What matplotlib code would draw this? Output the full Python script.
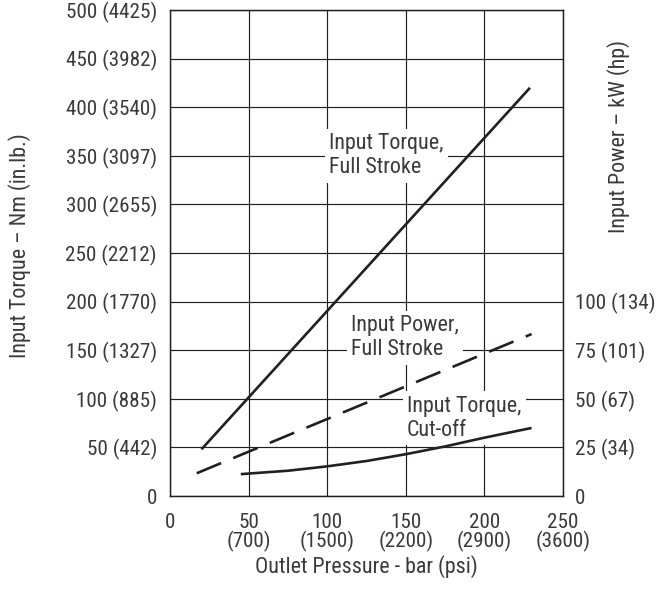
import matplotlib.pyplot as plt
import numpy as np

plt.rcParams["font.family"] = ["Roboto Condensed", "Liberation Sans Narrow", "Liberation Sans", "DejaVu Sans"]

INK = "#231f20"
TXT = "#3a3a3a"

# outlet pressure ticks (bar) and psi equivalents
x_ticks = [0, 50, 100, 150, 200, 250]
x_psi = ["", "(700)", "(1500)", "(2200)", "(2900)", "(3600)"]

# torque ticks (Nm) and in.lb. equivalents
y_ticks = [0, 50, 100, 150, 200, 250, 300, 350, 400, 450, 500]
y_inlb = ["", "(442)", "(885)", "(1327)", "(1770)", "(2212)", "(2655)", "(3097)", "(3540)", "(3982)", "(4425)"]

# power ticks (kW) and hp equivalents
p_ticks = [0, 25, 50, 75, 100]
p_hp = ["", "(34)", "(67)", "(101)", "(134)"]

# curves
torque_full_x = [20, 229]
torque_full_y = [48, 420]

power_full_x = [17, 230]
power_full_y = [11.7, 83.3]

torque_cut_x = [45, 75, 100, 125, 150, 175, 200, 230]
torque_cut_y = [22.5, 26, 30.5, 36, 43, 51, 60, 70]

fig, ax = plt.subplots(figsize=(6.61, 5.92), dpi=100)
fig.subplots_adjust(left=170 / 661, right=563 / 661, bottom=1 - 496 / 592, top=1 - 10 / 592)

ax.set_xlim(0, 250)
ax.set_ylim(0, 500)
ax.set_xticks(x_ticks)
ax.set_xticklabels([f"{v}\n{p}" if p else f"{v}" for v, p in zip(x_ticks, x_psi)],
                   linespacing=0.95)
ax.set_yticks(y_ticks)
ax.set_yticklabels([f"{v} {p}" if p else f"{v}" for v, p in zip(y_ticks, y_inlb)])
ax.tick_params(axis="both", length=0, labelsize=15.2, labelcolor=TXT)
ax.tick_params(axis="y", pad=9.4)
ax.tick_params(axis="x", pad=12)
ax.set_axisbelow(True)
ax.grid(True, color=INK, linewidth=0.85)
for s in ax.spines.values():
    s.set_color(INK)
    s.set_linewidth(0.9)

ax.plot(torque_full_x, torque_full_y, color=INK, lw=1.9, solid_capstyle="butt", zorder=5)
ax.plot(torque_cut_x, torque_cut_y, color=INK, lw=1.9, solid_capstyle="butt", zorder=5)

box = dict(boxstyle="square,pad=0.2", fc="white", ec="none")
ax.text(101.2, 350, "Input Torque,\nFull Stroke", fontsize=15.8, color=TXT, ha="left",
        va="center", linespacing=1.2, bbox=box, zorder=3)
ax.text(115.2, 163, "Input Power,\nFull Stroke", fontsize=15.8, color=TXT, ha="left",
        va="center", linespacing=1.2, bbox=box, zorder=3)
ax.text(150.8, 80, "Input Torque,\nCut-off", fontsize=15.8, color=TXT, ha="left",
        va="center", linespacing=1.2, bbox=box, zorder=3)

ax.set_xlabel("Outlet Pressure - bar (psi)", fontsize=15.8, color=TXT, va="center")
ax.xaxis.set_label_coords(0.5, -0.146)
ax.set_ylabel("Input Torque \u2013 Nm (in.lb.)", fontsize=15.8, color=TXT, va="center")
ax.yaxis.set_label_coords(-0.384, 0.516)

ax2 = ax.twinx()
ax2.set_ylim(0, 250)
ax2.set_yticks(p_ticks)
ax2.set_yticklabels([f"{v} {h}" if h else f"{v}" for v, h in zip(p_ticks, p_hp)])
ax2.tick_params(axis="y", length=0, pad=8.6, labelsize=15.2, labelcolor=TXT)
for s in ax2.spines.values():
    s.set_color(INK)
    s.set_linewidth(0.9)
ax2.plot(power_full_x, power_full_y, color=INK, lw=1.9, dashes=(10, 5), dash_capstyle="butt")
ax2.set_ylabel("Input Power \u2013 kW (hp)", fontsize=15.8, color=TXT, va="center", rotation=90)
ax2.yaxis.set_label_coords(1.14, 0.739)

fig.savefig("out.png", dpi=100, facecolor="white")
